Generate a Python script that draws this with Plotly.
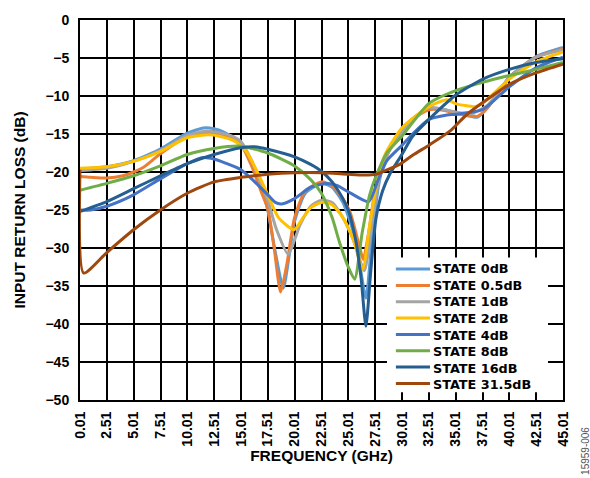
import plotly.graph_objects as go

# ---------------- data ----------------
state_names = ["STATE 0dB", "STATE 0.5dB", "STATE 1dB", "STATE 2dB",
               "STATE 4dB", "STATE 8dB", "STATE 16dB", "STATE 31.5dB"]
colors = ["#5B9BD5", "#ED7D31", "#A5A5A5", "#FFC000",
          "#4472C4", "#70AD47", "#255E91", "#9E480E"]

f_0 = [0.01, 1, 2.5, 5, 7.5, 9, 10, 11.5, 12.5, 13.5, 15, 16, 17, 17.5, 18.2, 18.95, 19.5, 20, 21, 22.5,
       23.5, 24.5, 25.5, 26, 26.65, 27.2, 27.8, 28.5, 29.5, 30, 31, 32.5, 34, 35, 36.5, 37, 38, 39, 40, 42.5, 45.01]
s_0 = [-19.6, -19.5, -19.3, -18.5, -17.0, -15.7, -14.9, -14.2, -14.3, -14.8, -16.2, -18.8, -22.5, -25.0, -30.5, -35.3, -31.0, -26.5, -22.8, -21.5,
       -22.0, -24.0, -28.0, -31.5, -36.6, -29.0, -22.0, -18.0, -15.5, -14.5, -13.0, -11.7, -11.8, -12.2, -12.7, -12.8, -11.5, -9.5, -7.5, -4.8, -3.6]

f_05 = [0.01, 1, 2.5, 4, 5, 6, 7.5, 10, 11.5, 12.5, 14, 15, 16, 17, 17.5, 18.1, 18.7, 19.3, 20, 21, 22.5,
        23.5, 24.5, 25.2, 26.1, 26.4, 26.9, 27.5, 28.5, 29.5, 30, 31, 32.5, 34, 35, 36.5, 37, 38, 39, 40, 42.5, 45.01]
s_05 = [-20.6, -20.7, -20.8, -20.5, -20.0, -19.3, -17.6, -15.3, -14.8, -14.9, -15.5, -16.4, -19.2, -23.0, -24.8, -30.0, -35.8, -32.0, -26.0, -22.5, -21.3,
        -21.8, -23.5, -25.4, -30.1, -31.5, -28.0, -22.5, -18.2, -15.6, -14.6, -13.1, -11.8, -11.9, -12.3, -12.6, -12.7, -11.5, -9.6, -7.6, -4.9, -3.8]

f_1 = [0.01, 2.5, 5, 7.5, 10, 11.8, 12.5, 14, 15, 16, 17, 17.5, 18.3, 19.4, 20.5, 21.5, 22.5, 23.5, 24.5, 25.5, 26.5,
       27.1, 27.8, 28.5, 29.5, 30, 31, 32.5, 34, 35, 36.5, 38, 40, 42.5, 45.01]
s_1 = [-19.8, -19.5, -18.6, -17.2, -15.2, -14.6, -14.7, -15.2, -16.0, -18.5, -22.0, -23.7, -27.5, -30.8, -27.0, -24.5, -23.7, -24.0, -26.0, -29.0, -33.0,
       -28.0, -21.5, -18.0, -15.6, -14.8, -13.2, -11.5, -11.8, -12.1, -12.3, -11.2, -7.6, -4.9, -3.9]

f_2 = [0.01, 2.5, 5, 7.5, 10, 12, 13, 14.5, 15.5, 16.5, 17.5, 18.5, 19.95, 20.8, 21.5, 22.5, 23.5, 24.5, 25.5, 26.35,
       27, 27.8, 28.5, 30, 32.5, 34.2, 35, 36.8, 37.5, 40, 42.5, 45.01]
s_2 = [-19.5, -19.3, -18.6, -17.3, -15.5, -15.1, -15.3, -16.0, -17.3, -19.9, -23.0, -26.0, -27.6, -26.0, -24.7, -24.0, -24.3, -26.0, -29.0, -32.8,
       -27.0, -20.5, -17.5, -14.2, -11.4, -10.5, -11.0, -11.4, -11.0, -7.8, -5.5, -4.2]

f_4 = [0.01, 1, 2.5, 5, 7.5, 10, 11.5, 12.5, 13.5, 15, 16.15, 17.5, 18.2, 18.8, 20, 21.5, 23, 24, 25, 26.9,
       27.8, 28.6, 30, 31, 32.5, 34.2, 35, 37.5, 40, 42.5, 45.01]
s_4 = [-25.0, -25.0, -24.5, -23.0, -20.9, -18.9, -18.1, -18.3, -18.8, -19.7, -21.1, -23.0, -24.0, -24.2, -23.5, -22.0, -21.5, -21.8, -22.6, -23.9,
       -21.0, -18.5, -16.5, -15.0, -13.1, -12.5, -12.4, -11.8, -8.8, -6.3, -4.9]

f_8 = [0.01, 2.5, 5, 7.5, 10, 12.5, 15, 17.5, 20, 21.5, 22.5, 23.5, 24.2, 25, 25.6, 26.3, 27, 27.6, 28.6, 30,
       32.5, 35, 37.5, 40, 42.5, 45.01]
s_8 = [-22.4, -21.5, -20.5, -19.2, -17.7, -16.9, -16.6, -17.5, -19.2, -21.0, -22.8, -26.0, -29.3, -32.5, -34.1, -28.0, -23.0, -20.5, -17.5, -15.3,
       -11.0, -9.3, -8.2, -7.3, -6.5, -5.6]

f_16 = [0.01, 2.5, 5, 7.5, 10, 12.5, 15, 16.5, 17.5, 20, 21.5, 22.5, 23.5, 24.5, 25, 25.7, 26.2, 26.65, 27.1, 27.6,
        28.2, 28.9, 30, 31, 32.5, 35, 37.5, 40, 42.5, 45.01]
s_16 = [-25.2, -23.9, -22.2, -20.5, -18.9, -17.7, -16.8, -16.7, -17.0, -18.0, -19.0, -19.9, -21.3, -23.5, -25.0, -29.0, -34.0, -40.3, -33.0, -26.0,
        -22.5, -20.2, -17.7, -15.3, -13.1, -9.9, -7.8, -6.5, -5.6, -5.1]

f_31 = [0.01, 0.35, 2.5, 5, 7.5, 10, 12.5, 15, 17.5, 20, 22.5, 25, 26.5, 27.6, 28.5, 29.8, 31, 32.6, 34.5, 36,
        37.6, 40.1, 42.6, 45.01]
s_31 = [-19.7, -33.3, -30.6, -27.6, -25.0, -22.8, -21.3, -20.7, -20.3, -20.1, -20.1, -20.3, -20.4, -20.3, -19.8, -19.0, -17.8, -16.4, -14.6, -12.5,
        -10.8, -8.4, -6.9, -5.8]

freqs = [f_0, f_05, f_1, f_2, f_4, f_8, f_16, f_31]
series = [s_0, s_05, s_1, s_2, s_4, s_8, s_16, s_31]

x_tick_vals = [0.01 + 2.5 * i for i in range(19)]
x_tick_text = ["0.01", "2.51", "5.01", "7.51", "10.01", "12.51", "15.01", "17.51", "20.01", "22.51",
               "25.01", "27.51", "30.01", "32.51", "35.01", "37.51", "40.01", "42.51", "45.01"]
y_tick_vals = [0, -5, -10, -15, -20, -25, -30, -35, -40, -45, -50]
y_tick_text = ["0", "\u22125", "\u221210", "\u221215", "\u221220", "\u221225", "\u221230",
               "\u221235", "\u221240", "\u221245", "\u221250"]

FONT = "Liberation Sans, Arial, sans-serif"
LEG_FONT = "DejaVu Sans, Liberation Sans, sans-serif"

fig = go.Figure()
for name, col, fx, sy in zip(state_names, colors, freqs, series):
    fig.add_trace(go.Scatter(x=fx, y=sy, mode="lines", name=name, showlegend=False,
                             line=dict(color=col, width=3, shape="spline", smoothing=0.6)))

fig.update_layout(
    width=590, height=478,
    margin=dict(l=80, r=27, t=13, b=78),
    paper_bgcolor="white", plot_bgcolor="white",
    font=dict(family=FONT, color="black", weight="bold"),
    showlegend=False,
)
fig.update_xaxes(range=[0.01, 45.01], tickvals=x_tick_vals, ticktext=x_tick_text,
                 tickangle=-90, tickfont=dict(size=14, family=FONT, weight="bold"),
                 showgrid=True, gridcolor="black", gridwidth=1.5,
                 showline=True, linecolor="black", linewidth=2, mirror=True,
                 zeroline=False, ticks="", ticklabelstandoff=4,
                 title=dict(text="FREQUENCY (GHz)", font=dict(size=15.5, family=FONT, weight="bold"), standoff=4))
fig.update_yaxes(range=[-50, 0], tickvals=y_tick_vals, ticktext=y_tick_text,
                 tickfont=dict(size=14, family=FONT, weight="bold"),
                 showgrid=True, gridcolor="black", gridwidth=1.5,
                 showline=True, linecolor="black", linewidth=2, mirror=True,
                 zeroline=False, ticks="", ticklabelstandoff=6,
                 title=dict(text="INPUT RETURN LOSS (dB)", font=dict(size=15.5, family=FONT, weight="bold"), standoff=16))

# ---- legend (drawn in paper coordinates, compact like the original) ----
plot_h = 478 - 13 - 78
leg_size = 12.8
line_px = leg_size * 1.3
fig.add_shape(type="rect", xref="paper", yref="paper", x0=0.6356, x1=0.969, y0=0.0207, y1=0.3747,
              fillcolor="white", line=dict(width=0), layer="above")
row0 = 0.3445
step = line_px / plot_h
for i, col in enumerate(colors):
    yy = row0 - i * step
    fig.add_shape(type="line", xref="paper", yref="paper", x0=0.654, x1=0.7246, y0=yy, y1=yy,
                  line=dict(color=col, width=3), layer="above")
fig.add_annotation(text="<br>".join(state_names), xref="paper", yref="paper",
                   x=0.7266, y=row0 - 3.5 * step, xanchor="left", yanchor="middle", align="left",
                   showarrow=False,
                   font=dict(size=leg_size, family=LEG_FONT, color="black", weight="bold"))

fig.add_annotation(text="15959-006", xref="paper", yref="paper", x=1.0476, y=-0.134,
                   xanchor="center", yanchor="middle", textangle=-90, showarrow=False,
                   font=dict(size=10, family=FONT, color="#555555", weight="normal"))

fig.write_html("out.html")
